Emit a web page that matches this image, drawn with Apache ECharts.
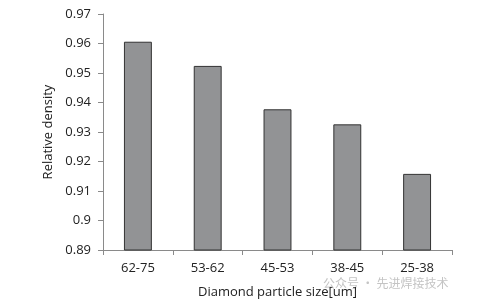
<!DOCTYPE html>
<html><head><meta charset="utf-8">
<script src="https://cdn.jsdelivr.net/npm/echarts@6/dist/echarts.min.js"></script>
<style>html,body{margin:0;padding:0;background:#fff}#c{width:498px;height:300px}</style>
</head><body><div id="c"></div>
<script>
const categories = ['62-75','53-62','45-53','38-45','25-38'];
const density = [0.9606, 0.9524, 0.9377, 0.9326, 0.9158];
const yMin = 0.89, yMax = 0.97, yStep = 0.01;
const xTitle = 'Diamond particle size[um]';
const yTitle = 'Relative density';
const watermark = '公众号 · 先进焊接技术';

const chart = echarts.init(document.getElementById('c'), null, {renderer:'canvas'});
const font = 'Open Sans, Noto Sans, sans-serif';
chart.setOption({
  animation:false,
  grid:{left:103, right:46, top:14, bottom:50, containLabel:false, outerBoundsMode:'none'},
  xAxis:{
    type:'category', data:categories,
    axisLine:{lineStyle:{color:'#8a8a8a', width:1}},
    axisTick:{show:true, length:5, lineStyle:{color:'#8a8a8a'}},
    axisLabel:{color:'#222', fontSize:13, fontFamily:font, margin:12},
    name:xTitle, nameLocation:'middle', nameGap:36,
    nameTextStyle:{color:'#222', fontSize:13, fontFamily:font}
  },
  yAxis:{
    type:'value', min:yMin, max:yMax, interval:yStep,
    splitLine:{show:false},
    axisLine:{show:true, lineStyle:{color:'#8a8a8a', width:1}},
    axisTick:{show:true, length:5, lineStyle:{color:'#8a8a8a'}},
    axisLabel:{color:'#222', fontSize:13, fontFamily:font, margin:12,
      formatter:v=>String(+v.toFixed(2))},
    name:yTitle, nameLocation:'middle', nameGap:32, nameRotate:90,
    nameTextStyle:{color:'#222', fontSize:13, fontFamily:font}
  },
  series:[{
    type:'bar', data:density, barWidth:'40%',
    itemStyle:{color:'#929395', borderColor:'#333', borderWidth:1}
  }],
  graphic:[{type:'text', left:323, top:277,
    style:{text:watermark, fill:'#c4c4c4', fontSize:12, fontFamily:'Noto Sans CJK SC, sans-serif'}}]
});
</script></body></html>
